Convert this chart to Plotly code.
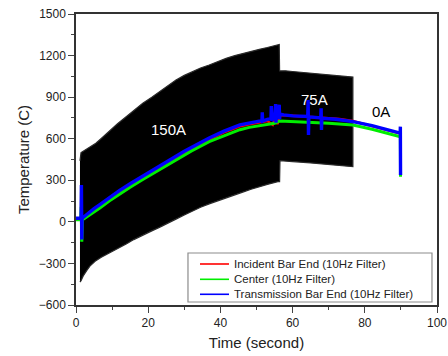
import plotly.graph_objects as go

# Raw (unfiltered) signal envelope
upper_t = [1.1, 1.4, 2.0, 3.0, 4.0, 5.5, 7.0, 9.2, 11.5, 13.9, 16.0, 18.5, 21.0, 23.1, 25.5, 27.7, 30.0,
           32.3, 34.5, 36.9, 39.0, 41.6, 44.0, 46.2, 48.5, 50.8, 53.0, 55.9, 56.3,
           56.4, 58.0, 60.0, 62.0, 65.0, 68.0, 70.0, 72.0, 74.0, 76.7]
upper_v = [440, 500, 510, 525, 543, 567, 602, 655, 708, 759, 805, 856, 900, 940, 985, 1024, 1057,
           1084, 1110, 1132, 1155, 1180, 1200, 1216, 1230, 1245, 1258, 1276, 1280,
           1089, 1090, 1085, 1080, 1075, 1068, 1062, 1058, 1052, 1045]
lower_t = [76.7, 74.0, 70.0, 65.0, 60.0, 56.5, 56.4, 55.9, 53.0, 50.8, 48.5, 46.2, 44.0, 41.6, 39.0,
           36.9, 34.5, 32.3, 30.0, 27.7, 25.5, 23.1, 21.0, 18.5, 16.0, 13.9, 11.5, 9.2, 7.0, 5.5,
           4.0, 3.0, 2.0, 1.4, 1.1]
lower_v = [398, 405, 415, 425, 435, 441, 290, 290, 270, 255, 235, 215, 195, 175, 152,
           130, 105, 80, 50, 20, -10, -40, -65, -95, -128, -160, -192, -225, -255, -280,
           -315, -350, -390, -425, -434]

# 10 Hz filtered signals
red_t = [0, 1.4, 1.8, 3, 5, 6.6, 9.2, 12, 15, 18.5, 22.2, 25, 30, 36.9, 41, 45.4, 48, 50.8, 52, 53, 54.5,
         55.2, 55.8, 56.5, 58, 60, 63, 66, 70, 73, 76.7, 82, 89.8]
red_v = [20, 20, 20, 47, 87, 117, 167, 217, 266, 321, 381, 426, 500, 596, 646, 690, 705, 718, 724, 728, 700,
         750, 705, 772, 770, 766, 762, 756, 750, 743, 728, 693, 637]

green_t = [0, 1.3, 1.45, 1.6, 1.8, 3, 5, 6.6, 9.2, 12, 15, 18.5, 22, 25, 28, 32, 36.9, 41, 45.4, 48, 50.8,
           55, 56.5, 60, 65, 70, 76.7, 82, 89.8, 89.85, 89.9]
green_v = [15, 15, 109, -143, 15, 35, 70, 100, 150, 200, 250, 305, 360, 405, 450, 512, 579, 622, 665,
           682, 695, 712, 728, 725, 720, 712, 699, 668, 615, 615, 326]

blue_t = [0, 1.4, 1.5, 1.6, 1.7, 1.8, 3, 5, 6.6, 9.2, 12, 15, 18.5, 22.2, 25, 30, 36.9, 41, 45.4, 48, 50.8,
          51.5, 51.6, 51.7, 53, 54, 54.1, 54.2, 55, 55.3, 55.4, 55.5, 56, 56.3, 56.4, 56.5, 57.5, 60,
          64.2, 64.3, 64.4, 64.5, 67.8, 67.9, 68.0, 68.1, 72, 76.7, 82, 89.8, 89.85, 89.9]
blue_v = [26, 26, 266, -128, 26, 28, 55, 95, 125, 175, 225, 275, 330, 390, 435, 510, 605, 655, 700, 715, 728,
          730, 790, 727, 740, 745, 835, 730, 755, 850, 715, 790, 770, 845, 740, 778, 772, 765,
          760, 879, 627, 758, 750, 820, 663, 748, 740, 723, 695, 641, 687, 338]

series_names = ["Incident Bar End (10Hz Filter)", "Center (10Hz Filter)",
                "Transmission Bar End (10Hz Filter)"]
series_colors = ["#ff0000", "#00ee00", "#0000ff"]

x_ticks = [0, 20, 40, 60, 80, 100]
y_ticks = [-600, -300, 0, 300, 600, 900, 1200, 1500]

band_t = upper_t + lower_t
band_v = upper_v + lower_v

fig = go.Figure()
fig.add_trace(go.Scatter(x=band_t, y=band_v, mode="lines", fill="toself", fillcolor="black",
                         line=dict(color="#2a2a2a", width=1.2), showlegend=False, hoverinfo="skip"))
for t, v, nm, col, w in zip([red_t, green_t, blue_t], [red_v, green_v, blue_v],
                             series_names, series_colors, [2.5, 3.0, 3.4]):
    fig.add_trace(go.Scatter(x=t, y=v, mode="lines", name=nm, showlegend=False,
                             line=dict(color=col, width=w)))

font_family = "Liberation Sans, Arial, sans-serif"
fig.add_annotation(x=25.5, y=663, text="150A", showarrow=False, font=dict(color="white", size=15, family=font_family))
fig.add_annotation(x=66, y=886, text="75A", showarrow=False, font=dict(color="white", size=15, family=font_family))
fig.add_annotation(x=84.5, y=793, text="0A", showarrow=False, font=dict(color="black", size=15, family=font_family))

# legend drawn in paper coordinates (compact row spacing as in the reference)
fig.add_shape(type="rect", xref="paper", yref="paper", x0=0.3102, x1=0.9861, y0=0.0103, y1=0.1787,
              line=dict(color="#8c8c8c", width=1.2), fillcolor="white", layer="above")
row_y = [0.1409, 0.0883, 0.0368]
for ry, nm, col in zip(row_y, series_names, series_colors):
    fig.add_shape(type="line", xref="paper", yref="paper", x0=0.3435, x1=0.4238, y0=ry, y1=ry,
                  line=dict(color=col, width=1.6), layer="above")
    fig.add_annotation(xref="paper", yref="paper", x=0.4321, y=ry, text=nm, showarrow=False,
                       xanchor="left", yanchor="middle",
                       font=dict(size=11.5, color="#222222", family=font_family))

fig.update_layout(
    width=448, height=356,
    margin=dict(l=76, r=11, t=14, b=51, autoexpand=False),
    paper_bgcolor="white", plot_bgcolor="white",
    font=dict(family=font_family, color="#222222", size=12),
    showlegend=False,
    xaxis=dict(range=[0, 100], tickvals=x_ticks, ticks="outside", ticklen=6, tickwidth=1.2,
               minor=dict(dtick=10, ticks="outside", ticklen=3, tickwidth=1),
               showline=True, linecolor="#333333", linewidth=1.5, mirror=True,
               showgrid=False, zeroline=False, automargin=False,
               title=dict(text="Time (second)", font=dict(size=15), standoff=8)),
    yaxis=dict(range=[-600, 1500], tickvals=y_ticks, ticks="outside", ticklen=6, tickwidth=1.2,
               minor=dict(dtick=150, ticks="outside", ticklen=3, tickwidth=1),
               showline=True, linecolor="#333333", linewidth=1.5, mirror=True,
               showgrid=False, zeroline=False, automargin=False,
               title=dict(text="Temperature (C)", font=dict(size=15), standoff=6)),
)

fig.write_html("out.html", config={"displayModeBar": False},
               post_script="document.body.style.margin='0px';")
